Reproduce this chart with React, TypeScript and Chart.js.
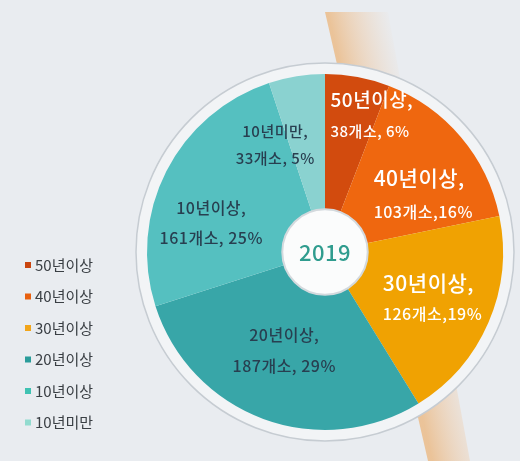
import React, { useEffect, useRef } from "react";
import { Chart, registerables } from "chart.js";

Chart.register(...registerables);

// ---- data ----
const categories = ["50년이상", "40년이상", "30년이상", "20년이상", "10년이상", "10년미만"];
const counts = [38, 103, 126, 187, 161, 33];
const percents = [6, 16, 19, 29, 25, 5];
const centerLabel = "2019";

// ---- styles ----
const sliceColors = ["#d24b0e", "#ef670f", "#f0a202", "#38a6a8", "#55c0c0", "#8ad2d0"];
const legendColors = ["#c9450f", "#e8600f", "#f2a51a", "#2a9c9a", "#3fc2b2", "#92dbcf"];
const BG = "#e9ecf0";
const FONT = '"Noto Sans CJK KR", "Noto Sans", sans-serif';

// label placement styles (offset from slice centroid, in px)
const labelStyle = [
  { color: "#ffffff", s1: 19, s2: 15, align: "left", dx: -16, dy: -21, gap: 32, sep: ", ", w: 500 },
  { color: "#ffffff", s1: 21, s2: 16, align: "left", dx: -41, dy: 19, gap: 34, sep: ",", w: 500 },
  { color: "#ffffff", s1: 21, s2: 16, align: "left", dx: -50, dy: 0, gap: 31, sep: ",", w: 500 },
  { color: "#283f50", s1: 16, s2: 16, align: "center", dx: 0, dy: -12, gap: 31, sep: ", ", w: 500 },
  { color: "#283f50", s1: 16, s2: 16, align: "center", dx: -9, dy: 24, gap: 30, sep: ", ", w: 500 },
  { color: "#283f50", s1: 15, s2: 15, align: "center", dx: -31, dy: 9, gap: 27, sep: ", ", w: 500 },
];

const decorPlugin = {
  id: "decor",
  beforeDraw(chart: any) {
    const { ctx } = chart;
    ctx.save();
    ctx.fillStyle = BG;
    ctx.fillRect(0, 0, chart.width, chart.height);
    // decorative slanted stripe
    const g = ctx.createLinearGradient(325, 0, 385, -14);
    g.addColorStop(0, "rgba(236,168,95,0.6)");
    g.addColorStop(0.5, "rgba(240,190,140,0.35)");
    g.addColorStop(1, "rgba(240,200,160,0)");
    ctx.fillStyle = g;
    ctx.beginPath();
    ctx.moveTo(325, 12);
    ctx.lineTo(388, 12);
    ctx.lineTo(470, 461);
    ctx.lineTo(428, 461);
    ctx.closePath();
    ctx.fill();
    // outer ring
    const meta = chart.getDatasetMeta(0);
    const arc = meta.data[0];
    if (arc) {
      const { x, y, outerRadius } = arc.getProps(["x", "y", "outerRadius"], true);
      ctx.beginPath();
      ctx.arc(x, y, outerRadius + 11, 0, Math.PI * 2);
      ctx.fillStyle = "#f2f4f6";
      ctx.fill();
      ctx.lineWidth = 1.5;
      ctx.strokeStyle = "#c6ccd2";
      ctx.stroke();
    }
    ctx.restore();
  },
  afterDatasetsDraw(chart: any) {
    const { ctx } = chart;
    const meta = chart.getDatasetMeta(0);
    const first = meta.data[0];
    if (!first) return;
    const { x: cx, y: cy, outerRadius, innerRadius } = first.getProps(
      ["x", "y", "outerRadius", "innerRadius"],
      true
    );
    ctx.save();
    // center circle
    ctx.beginPath();
    ctx.arc(cx, cy, innerRadius, 0, Math.PI * 2);
    ctx.fillStyle = "#fbfcfc";
    ctx.fill();
    ctx.lineWidth = 2;
    ctx.strokeStyle = "#d3d9dd";
    ctx.stroke();
    ctx.fillStyle = "#2f9c8e";
    ctx.font = `500 22px ${FONT}`;
    ctx.textAlign = "center";
    ctx.textBaseline = "middle";
    (ctx as any).letterSpacing = "0.5px";
    ctx.fillText(centerLabel, cx, cy + 1);

    // slice labels
    meta.data.forEach((a: any, i: number) => {
      const p = a.getProps(["startAngle", "endAngle"], true);
      const mid = (p.startAngle + p.endAngle) / 2;
      const r = outerRadius * 0.66;
      const st = labelStyle[i];
      const ax = cx + Math.cos(mid) * r + st.dx;
      const ay = cy + Math.sin(mid) * r + st.dy;
      ctx.fillStyle = st.color;
      ctx.textAlign = st.align;
      ctx.textBaseline = "middle";
      ctx.font = `${st.w} ${st.s1}px ${FONT}`;
      ctx.fillText(`${categories[i]},`, ax, ay - st.gap / 2);
      ctx.font = `${st.w} ${st.s2}px ${FONT}`;
      ctx.fillText(`${counts[i]}개소${st.sep}${percents[i]}%`, ax, ay + st.gap / 2);
    });
    (ctx as any).letterSpacing = "0px";

    // legend
    ctx.textAlign = "left";
    ctx.textBaseline = "middle";
    ctx.font = `15px ${FONT}`;
    categories.forEach((c, i) => {
      const y = 265 + i * 31.5;
      ctx.fillStyle = legendColors[i];
      ctx.fillRect(25, y - 3, 6, 6);
      ctx.fillStyle = "#3a3f44";
      ctx.fillText(c, 35, y);
    });
    ctx.restore();
  },
};

export default function App() {
  const ref = useRef<HTMLCanvasElement>(null);
  useEffect(() => {
    if (!ref.current) return;
    const chart = new Chart(ref.current, {
      type: "doughnut",
      data: {
        labels: categories,
        datasets: [
          {
            data: counts,
            backgroundColor: sliceColors,
            borderWidth: 0,
          },
        ],
      },
      options: {
        responsive: false,
        animation: false,
        cutout: "24%",
        layout: { padding: { left: 147, right: 17, top: 74, bottom: 31 } },
        plugins: { legend: { display: false }, tooltip: { enabled: false } },
      },
      plugins: [decorPlugin],
    });
    return () => chart.destroy();
  }, []);
  return (
    <div style={{ position: "fixed", left: 0, top: 0, width: 520, height: 461, background: BG }}>
      <canvas ref={ref} width={520} height={461} />
    </div>
  );
}
